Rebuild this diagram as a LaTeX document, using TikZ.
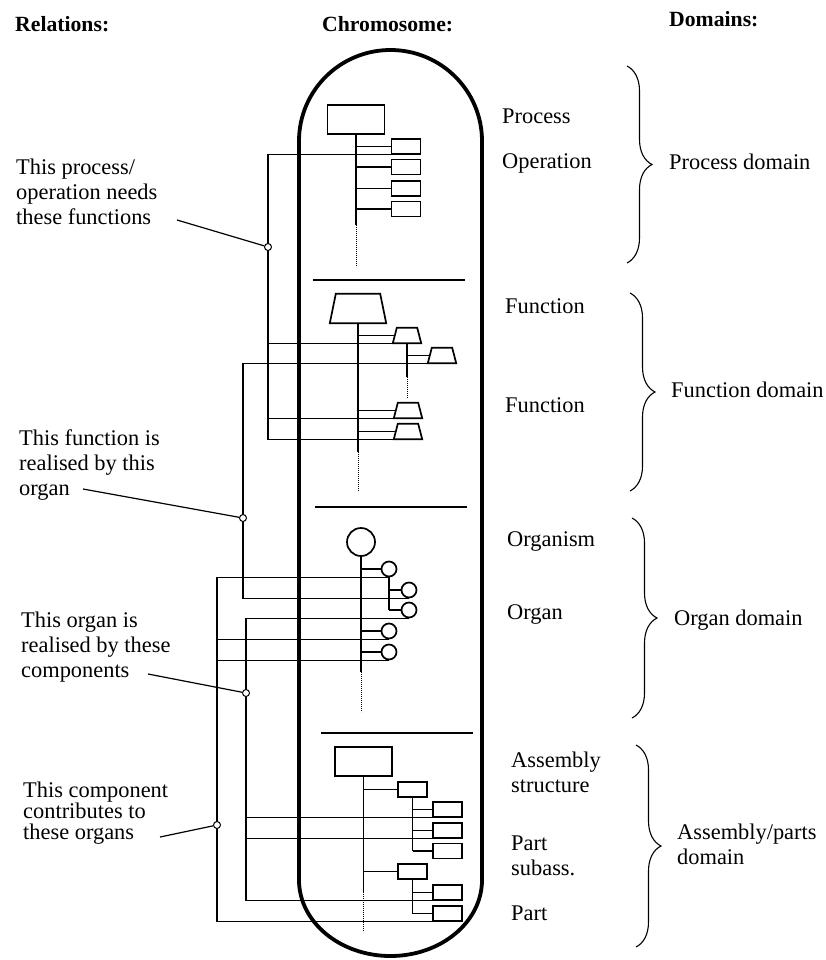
\documentclass[tikz,border=0pt]{standalone}
\usepackage{fontspec}
\setmainfont{Liberation Serif}
\usetikzlibrary{shapes.geometric,decorations.pathreplacing}
\newcommand\drawtrap[2]{\draw[geneline] (#1.south west) -- ([xshift=#2]#1.north west) -- ([xshift=-#2]#1.north east) -- (#1.south east) -- cycle;}
\begin{document}
\begin{tikzpicture}[x=1pt,y=-1pt,
  geneline/.style={draw, line width=1.7pt, fill=white, line join=miter},
  gene/.style={draw, line width=1.7pt, inner sep=0pt, fill=white},
  rbox/.style={gene, rectangle, minimum width=29pt, minimum height=15pt},
  bigbox/.style={gene, rectangle, minimum width=57pt, minimum height=29pt},
  trap/.style={rectangle, inner sep=0pt, minimum width=28pt, minimum height=15pt},
  bigtrap/.style={rectangle, inner sep=0pt, minimum width=56pt, minimum height=29pt},
  orgc/.style={gene, circle, minimum size=15pt},
  bigc/.style={gene, circle, minimum size=28pt},
  stem/.style={line width=1.7pt},
  dots/.style={line width=0.7pt, dash pattern=on 0.8pt off 1.2pt},
  rel/.style={line width=1.2pt},
  joint/.style={circle, draw, fill=white, line width=1pt, minimum size=7pt, inner sep=0pt},
  sepline/.style={line width=1.8pt},
  capsule/.style={line width=3.8pt},
  lab/.style={font=\fontsize{22.4}{25}\selectfont, anchor=base west, inner sep=0pt, align=left},
  head/.style={font=\fontsize{21.7}{26}\selectfont\bfseries, anchor=base west, inner sep=0pt},
  dbrace/.style={decorate, decoration={brace, amplitude=25pt, aspect=0.5}, line width=1.1pt}]
\useasboundingbox (0,0) rectangle (826,960);

% headers
\node[head] (h1) at (15,32) {Relations:};
\node[head] (h2) at (322,32) {Chromosome:};
\node[head] (h3) at (669,27) {Domains:};

% relation coordinates
\coordinate (r1) at (268,0);
\coordinate (r2) at (243,0);
\coordinate (r3) at (246,0);
\coordinate (r4) at (217,0);

% ---- process section
\node[bigbox] (p0) at (356,119.5) {};
\node[rbox] (p1) at (406,146.5) {};
\node[rbox] (p2) at (406,167) {};
\node[rbox] (p3) at (406,188.5) {};
\node[rbox] (p4) at (406,209) {};
% ---- function section
\node[bigtrap] (f0) at (358,308.5) {};
\node[trap] (f1) at (407,335.5) {};
\node[trap] (f11) at (442,355.5) {};
\node[trap] (f3) at (408,410.5) {};
\node[trap] (f4) at (408,431.5) {};
% ---- organ section
\node[bigc] (o0) at (361,542) {};
\node[orgc] (o1) at (389,569) {};
\node[orgc] (o11) at (409,590) {};
\node[orgc] (o12) at (409,610) {};
\node[orgc] (o4) at (389,631) {};
\node[orgc] (o5) at (389,652) {};
% ---- assembly section
\node[bigbox] (a0) at (363.5,761.5) {};
\node[rbox] (s1) at (412.5,789.5) {};
\node[rbox] (q11) at (447.5,809.5) {};
\node[rbox] (q12) at (447.5,830.5) {};
\node[rbox] (q13) at (447.5,851) {};
\node[rbox] (s2) at (412.5,871.5) {};
\node[rbox] (q21) at (447.5,892.5) {};
\node[rbox] (q22) at (447.5,913.5) {};

% ---- relation lines
\draw[rel] (p1.south west) -- (p1.south west -| r1) -- (f4.south west -| r1) -- (f4.south west);
\draw[rel] (f1.south west -| r1) -- (f1.south west);
\draw[rel] (f3.south west -| r1) -- (f3.south west);

\draw[rel] (f11.south west) -- (f11.south west -| r2) -- (o11.south -| r2) -- (o11.south);

\draw[rel] (o12.south) -- (o12.south -| r3) -- (q21.south west -| r3) -- (q21.south west);
\draw[rel] (q11.south west -| r3) -- (q11.south west);
\draw[rel] (q12.south west -| r3) -- (q12.south west);

\draw[rel] (o1.south) -- (o1.south -| r4) -- (q22.south west -| r4) -- (q22.south west);
\draw[rel] (o4.south -| r4) -- (o4.south);
\draw[rel] (o5.south -| r4) -- (o5.south);

% ---- capsule
\draw[capsule] (299,880) -- (299,141) arc[start angle=180, end angle=360, x radius=91.5, y radius=91] -- (482,880) arc[start angle=0, end angle=180, x radius=91.5, y radius=76] -- cycle;

% separators
\coordinate (sa1) at (313,280); \coordinate (sb1) at (465,280);
\coordinate (sa2) at (315,507); \coordinate (sb2) at (467,507);
\coordinate (sa3) at (321,733); \coordinate (sb3) at (473,733);
\draw[sepline] (sa1) -- (sb1);
\draw[sepline] (sa2) -- (sb2);
\draw[sepline] (sa3) -- (sb3);

% trapezoid outlines
\drawtrap{f0}{6pt}
\drawtrap{f1}{4pt}
\drawtrap{f11}{4pt}
\drawtrap{f3}{4pt}
\drawtrap{f4}{4pt}

% ---- process stems
\coordinate (pse) at (356,225); \coordinate (pde) at (356,267);
\draw[stem] (p0.south) -- (pse);
\draw[dots] (pse) -- (pde);
\foreach \n in {p1,p2,p3,p4} \draw[stem] (\n.west -| p0.south) -- (\n.west);

% ---- function stems
\coordinate (fse) at (358,452); \coordinate (fde) at (358,492);
\draw[stem] (f0.south) -- (fse);
\draw[dots] (fse) -- (fde);
\foreach \n in {f1,f3,f4} \draw[stem] (\n.west -| f0.south) -- ([xshift=2pt]\n.west);
\coordinate (f1se) at (407,377); \coordinate (f1de) at (407,398);
\draw[stem] (f1.south) -- (f1se);
\draw[dots] (f1se) -- (f1de);
\draw[stem] (f11.west -| f1.south) -- ([xshift=2pt]f11.west);

% ---- organ stems
\coordinate (ose) at (361,672); \coordinate (ode) at (361,712);
\draw[stem] (o0.south) -- (ose);
\draw[dots] (ose) -- (ode);
\foreach \n in {o1,o4,o5} \draw[stem] (\n.west -| o0.south) -- (\n.west);
\draw[stem] (o1.south) -- (o12.west -| o1.south);
\foreach \n in {o11,o12} \draw[stem] (\n.west -| o1.south) -- (\n.west);

% ---- assembly stems
\coordinate (ase) at (363.5,892); \coordinate (ade) at (363.5,932);
\draw[stem] (a0.south) -- (ase);
\draw[dots] (ase) -- (ade);
\foreach \n in {s1,s2} \draw[stem] (\n.west -| a0.south) -- (\n.west);
\draw[stem] (s1.south) -- (q13.west -| s1.south);
\foreach \n in {q11,q12,q13} \draw[stem] (\n.west -| s1.south) -- (\n.west);
\draw[stem] (s2.south) -- (q22.west -| s2.south);
\foreach \n in {q21,q22} \draw[stem] (\n.west -| s2.south) -- (\n.west);

% ---- junctions
\node[joint] (c1) at (268,247) {};
\node[joint] (c2) at (243,518) {};
\node[joint] (c3) at (246,693) {};
\node[joint] (c4) at (217,825) {};

% ---- left labels (base = last line)
\node[lab] (t1) at (16,224) {This process/\\operation needs\\these functions};
\node[lab] (t2) at (19,495) {This function is\\realised by this\\organ};
\node[lab] (t3) at (21,677) {This organ is\\realised by these\\components};
\node[lab, font=\fontsize{22.4}{21}\selectfont] (t4) at (23,839) {This component\\contributes to\\these organs};
\coordinate (e1) at (177,220);
\coordinate (e2) at (83,489);
\coordinate (e3) at (148,674);
\coordinate (e4) at (160,837);
\draw[rel] (e1) -- (c1);
\draw[rel] (e2) -- (c2);
\draw[rel] (e3) -- (c3);
\draw[rel] (e4) -- (c4);

% ---- right labels
\node[lab] (l1) at (502,124) {Process};
\node[lab] (l2) at (502,168) {Operation};
\node[lab] (l3) at (505,313) {Function};
\node[lab] (l4) at (505,412) {Function};
\node[lab] (l5) at (507,546) {Organism};
\node[lab] (l6) at (507,619) {Organ};
\node[lab] (l7) at (511,792) {Assembly\\structure};
\node[lab] (l8) at (511,875) {Part\\subass.};
\node[lab] (l9) at (511,920) {Part};

% ---- domains
\coordinate (b1t) at (627,66);  \coordinate (b1b) at (627,263);
\coordinate (b2t) at (630,293); \coordinate (b2b) at (630,491);
\coordinate (b3t) at (632,518); \coordinate (b3b) at (632,718);
\coordinate (b4t) at (636,745); \coordinate (b4b) at (636,947);
\draw[dbrace] (b1t) -- (b1b);
\draw[dbrace] (b2t) -- (b2b);
\draw[dbrace] (b3t) -- (b3b);
\draw[dbrace] (b4t) -- (b4b);
\node[lab] (d1) at (669,170) {Process domain};
\node[lab] (d2) at (671,397) {Function domain};
\node[lab] (d3) at (674,625) {Organ domain};
\node[lab] (d4) at (677,864) {Assembly/parts\\domain};
\end{tikzpicture}
\end{document}
